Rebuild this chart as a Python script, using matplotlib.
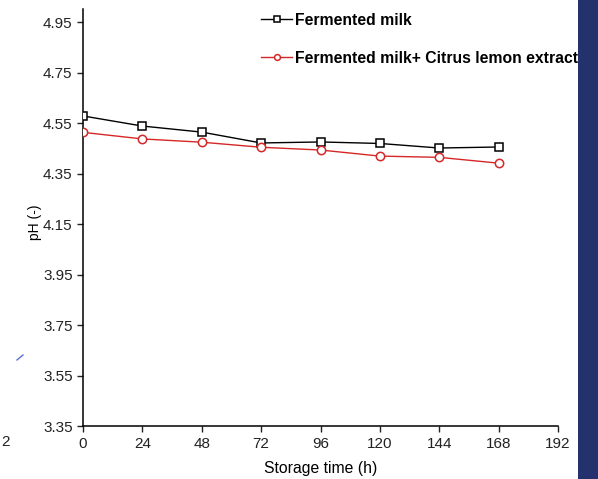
import matplotlib
matplotlib.use('Agg')
import matplotlib.pyplot as plt
from matplotlib.patches import Polygon

plt.rcParams['font.family'] = ['Liberation Sans', 'DejaVu Sans']

# storage time (h)
hours = [0, 24, 48, 72, 96, 120, 144, 168]
# pH values
ph_milk = [4.578, 4.538, 4.514, 4.471, 4.475, 4.469, 4.451, 4.455]
ph_lemon = [4.513, 4.487, 4.474, 4.454, 4.443, 4.419, 4.414, 4.391]

x_ticks = [0, 24, 48, 72, 96, 120, 144, 168, 192]
y_ticks = [3.35, 3.55, 3.75, 3.95, 4.15, 4.35, 4.55, 4.75, 4.95]
labels = ['Fermented milk', 'Fermented milk+ Citrus lemon extract']

W, H = 598, 479
fig = plt.figure(figsize=(W / 100, H / 100), dpi=100)

# slide decoration on the right
fig.patches.append(Polygon([[578 / W, 0], [1, 0], [1, 1], [578 / W, 1]],
                           closed=True, transform=fig.transFigure,
                           facecolor='#23326c', edgecolor='none', zorder=0))
fig.add_artist(plt.Line2D([17 / W, 23 / W], [1 - 360 / H, 1 - 355 / H],
                          color='#5b6fd0', lw=1, transform=fig.transFigure))
fig.text(1 / W, 1 - 442 / H, '2', fontsize=11, va='center', ha='left', color='#222222')

ax = fig.add_axes([83 / W, 53 / H, (558 - 83) / W, (426 - 9.4) / H])
ax.plot(hours, ph_milk, color='black', lw=1, marker='s', markersize=6,
        markerfacecolor='white', markeredgecolor='black', markeredgewidth=1.1,
        label=labels[0], zorder=3)
ax.plot(hours, ph_lemon, color='#d62728', lw=1, marker='o', markersize=6,
        markerfacecolor='white', markeredgecolor='#d62728', markeredgewidth=1.1,
        label=labels[1], zorder=3)

ax.set_xlim(0, 192)
ax.set_ylim(3.35, 5.0)
ax.set_xticks(x_ticks)
ax.set_yticks(y_ticks)
ax.set_yticklabels(['%.2f' % v for v in y_ticks])
ax.tick_params(direction='out', length=4, width=1, labelsize=11, colors='#222222')
ax.tick_params(axis='x', pad=4)
for s in ['top', 'right']:
    ax.spines[s].set_visible(False)
for s in ['left', 'bottom']:
    ax.spines[s].set_linewidth(1.1)

ax.set_xlabel('Storage time (h)', fontsize=11.3, labelpad=7)
ax.set_ylabel('pH (-)', fontsize=10)
ax.yaxis.set_label_coords(-0.086, 0.49)

leg = ax.legend(loc='upper left', bbox_to_anchor=(253 / W, 1 - 5 / H),
                bbox_transform=fig.transFigure, frameon=False,
                prop={'weight': 'bold', 'size': 11.3}, handlelength=2.0,
                handletextpad=0.2, labelspacing=1.45, borderpad=0,
                markerscale=0.7)

fig.savefig('out.png', dpi=100)
